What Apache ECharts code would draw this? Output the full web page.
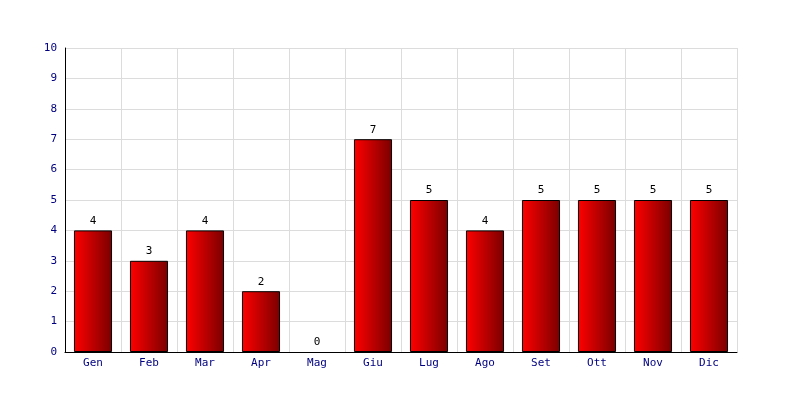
<!DOCTYPE html>
<html><head><meta charset="utf-8">
<script src="https://cdn.jsdelivr.net/npm/echarts@6/dist/echarts.min.js"></script>
<style>html,body{margin:0;padding:0;background:#fff}#c{width:800px;height:400px}</style>
</head><body><div id="c"></div>
<script>
const categories = ['Gen','Feb','Mar','Apr','Mag','Giu','Lug','Ago','Set','Ott','Nov','Dic'];
const values = [4,3,4,2,0,7,5,4,5,5,5,5];
const yTicks = [0,1,2,3,4,5,6,7,8,9,10];

const chart = echarts.init(document.getElementById('c'), null, {renderer:'canvas'});
const font = 'DejaVu Sans Mono';
const barData = values.map(v => v === 0 ? {value:v, itemStyle:{borderWidth:0, opacity:0}, label:{opacity:1}} : v);
chart.setOption({
  animation:false,
  backgroundColor:'#fff',
  grid:{left:65, right:63, top:48, bottom:48, containLabel:false, show:false},
  xAxis:{
    type:'category', data:categories, boundaryGap:true,
    axisLine:{show:true, lineStyle:{color:'#000', width:1}},
    axisTick:{show:false},
    axisLabel:{color:'#000080', fontFamily:font, fontSize:11, margin:6},
    splitLine:{show:true, interval:0, lineStyle:{color:'#dcdcdc', width:1}}
  },
  yAxis:{
    type:'value', min:yTicks[0], max:yTicks[yTicks.length-1], interval:1,
    axisLine:{show:true, lineStyle:{color:'#000', width:1}},
    axisTick:{show:false},
    axisLabel:{color:'#000080', fontFamily:font, fontSize:11, margin:8},
    splitLine:{show:true, lineStyle:{color:'#dcdcdc', width:1}}
  },
  series:[{
    type:'bar', data:barData, barWidth:'68%',
    itemStyle:{
      color:new echarts.graphic.LinearGradient(0,0,1,0,[{offset:0,color:'#ff0000'},{offset:1,color:'#7a0000'}]),
      borderColor:'#000', borderWidth:1
    },
    label:{show:true, position:'top', color:'#000', fontFamily:font, fontSize:11, distance:4}
  }]
});
</script></body></html>
